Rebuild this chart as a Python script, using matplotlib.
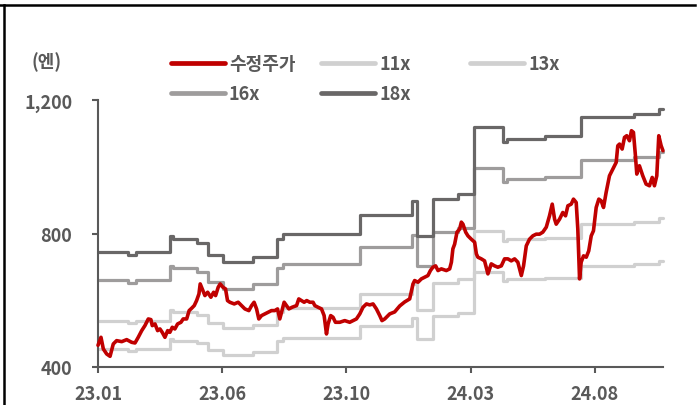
import matplotlib.pyplot as plt
from matplotlib.lines import Line2D
import numpy as np

plt.rcParams['font.family'] = ['Noto Sans CJK KR', 'DejaVu Sans']

W, H = 700, 406

# trading-day index vs adjusted share price (yen)
price_day = [0, 2.4, 4.3, 7.0, 9.7, 12.3, 15.0, 19.1, 23.1, 27.1, 29.8, 32.4, 35.2,
             37.8, 40.5, 42.6, 43.7, 45.9, 48.0, 49.9, 51.7, 53.9, 56.1, 57.9, 59.8,
             61.9, 64.1, 66.8, 68.6, 71.4, 73.4, 75.4, 77.5, 79.4, 81.3, 82.3, 83.9,
             86.1, 88.3, 90.9, 93.1, 94.7, 96.8, 98.4, 100.6, 102.7, 104.3, 106.2,
             109.7, 112.9, 115.6, 118.3, 121.5, 123.7, 125.7, 127.7, 129.5, 131.7,
             134.3, 137.0, 139.7, 142.4, 144.6, 146.4, 147.8, 149.9, 151.8, 153.7,
             156.3, 159.9, 161.7, 163.9, 166.0, 168.1, 170.6, 173.2, 174.6, 177.2,
             180.0, 182.1, 184.0, 185.3, 187.4, 189.3, 191.2, 194.7, 198.7, 202.7,
             205.4, 208.1, 210.8, 213.4, 216.2, 218.8, 221.5, 224.2, 226.9, 228.7,
             230.9, 234.9, 238.9, 243.0, 247.0, 251.0, 253.7, 255.0, 257.7, 260.4,
             263.1, 265.7, 267.7, 269.7, 271.9, 273.8, 276.5, 280.5, 283.2, 284.6,
             285.8, 287.2, 289.1, 291.2, 292.6, 293.9, 296.1, 297.9, 300.6, 303.3,
             304.7, 305.9, 308.7, 311.3, 314.0, 316.7, 319.4, 322.0, 324.8, 327.4,
             330.1, 332.8, 335.5, 338.1, 340.9, 342.7, 344.9, 347.5, 350.2, 352.9,
             355.6, 358.2, 361.0, 363.6, 365.8, 367.7, 369.0, 371.7, 374.3, 376.5,
             378.4, 381.1, 382.9, 385.1, 386.4, 387.8, 389.1, 391.0, 393.2, 395.2,
             397.2, 399.0, 401.2, 403.3, 405.2, 407.1, 409.2, 411.9, 414.6, 417.3,
             418.6, 420.0, 422.1, 424.0, 425.8, 428.0, 429.6, 431.2, 432.8, 433.9,
             436.0, 438.7, 441.4, 444.1, 446.3, 448.1, 450.0, 451.6, 453.5, 455.0]
price = [465, 489, 454, 439, 432, 469, 479, 476, 482, 474, 472, 489, 509,
         524, 544, 542, 524, 529, 509, 514, 504, 489, 509, 504, 519,
         514, 529, 534, 544, 544, 569, 576, 584, 599, 619, 649, 634,
         614, 624, 609, 624, 614, 639, 649, 639, 634, 599, 594,
         589, 594, 584, 574, 569, 584, 594, 574, 544, 554,
         559, 564, 569, 569, 574, 544, 564, 594, 584, 574,
         579, 584, 604, 599, 594, 599, 594, 594, 584, 579,
         574, 554, 499, 529, 554, 549, 534, 534, 539, 534,
         539, 544, 559, 579, 589, 586, 589, 574, 554, 539,
         544, 559, 565, 583, 595, 604, 649, 659, 654, 664,
         669, 674, 689, 699, 703, 689, 694, 689, 694, 714,
         754, 768, 804, 813, 834, 828, 804, 793, 783, 774,
         739, 729, 724, 718, 679, 709, 703, 699, 703, 724,
         724, 718, 724, 714, 674, 703, 763, 783, 793, 798,
         798, 804, 819, 853, 888, 843, 828, 843, 863, 853,
         883, 888, 903, 893, 813, 664, 714, 733, 729, 748,
         793, 808, 878, 903, 898, 878, 923, 973, 993, 1013,
         1063, 1068, 1053, 1088, 1093, 1078, 1108, 1103, 1033, 978,
         1003, 973, 948, 943, 968, 943, 973, 1093, 1063, 1048]

# forward EPS steps (yen); edges are trading-day indices where EPS changes
eps_edges = [0, 24, 31, 58, 60, 80, 88.5, 101, 125, 144, 149, 211, 253, 257,
             269.5, 290, 303, 326, 329, 360, 389, 432, 452, 455]
eps = [41.3, 40.8, 41.3, 44.0, 43.5, 42.8, 40.9, 39.7, 40.5, 43.5, 44.3, 47.5,
       49.8, 44.0, 50.2, 51.0, 62.2, 59.7, 60.2, 60.6, 63.8, 64.3, 65.2]

per_multiples = [11, 13, 16, 18]
band_labels = ['11x', '13x', '16x', '18x']
band_colors = ['#d0d0d0', '#d0d0d0', '#9e9c9c', '#696767']

tick_days = [0, 100, 200, 300, 400]
tick_labels = ['23.01', '23.06', '23.10', '24.03', '24.08']
yticks = [400, 800, 1200]

text_color = '#595959'
red = '#c00000'

fig = plt.figure(figsize=(W / 100, H / 100), dpi=100)
ax = fig.add_axes([98 / W, 1 - 368 / H, (663 - 98) / W, (368 - 101) / H])

eps_arr = np.array(eps)
for k, c in zip(per_multiples, band_colors):
    ax.stairs(eps_arr * k, eps_edges, baseline=None, color=c, lw=2.3,
              joinstyle='round', capstyle='round', clip_on=False)

ax.plot(price_day, price, color=red, lw=2.6, solid_joinstyle='round',
        solid_capstyle='round', clip_on=False, zorder=5)

ax.set_xlim(0, 455)
ax.set_ylim(400, 1200)
ax.set_xticks(tick_days)
ax.set_xticklabels(tick_labels)
ax.set_yticks(yticks)
ax.set_yticklabels([f'{v:,}' for v in yticks])

for s in ['top', 'right']:
    ax.spines[s].set_visible(False)
for s in ['left', 'bottom']:
    ax.spines[s].set_color(text_color)
    ax.spines[s].set_linewidth(1.5)

ax.tick_params(axis='both', colors=text_color, width=1.5, length=4.5,
               labelsize=13)
ax.tick_params(axis='y', pad=14)
ax.tick_params(axis='x', pad=8)
for lbl in ax.get_xticklabels() + ax.get_yticklabels():
    lbl.set_fontweight('bold')
    lbl.set_color(text_color)


def fx(px):
    return px / W


def fy(py):
    return 1 - py / H


# unit label
fig.text(fx(47), fy(62), '(엔)', ha='center', va='center', fontsize=13,
         fontweight='bold', color=text_color)

# legend drawn in two rows
legend_items = [
    ('수정주가', red, 171, 64),
    (band_labels[0], band_colors[0], 321, 64),
    (band_labels[1], band_colors[1], 470, 64),
    (band_labels[2], band_colors[2], 171, 94),
    (band_labels[3], band_colors[3], 321, 94),
]
for name, c, x0, y0 in legend_items:
    fig.add_artist(Line2D([fx(x0), fx(x0 + 54)], [fy(y0), fy(y0)], color=c,
                          lw=3.4, solid_capstyle='round'))
    fig.text(fx(x0 + 58), fy(y0), name, ha='left', va='center', fontsize=13,
             fontweight='bold', color=text_color)

# frame lines along the top and left edges
fig.add_artist(Line2D([0, fx(695)], [fy(6), fy(6)], color='black', lw=1.8))
fig.add_artist(Line2D([fx(4), fx(4)], [fy(6), 0], color='black', lw=1.8))

fig.savefig('out.png', dpi=100)
